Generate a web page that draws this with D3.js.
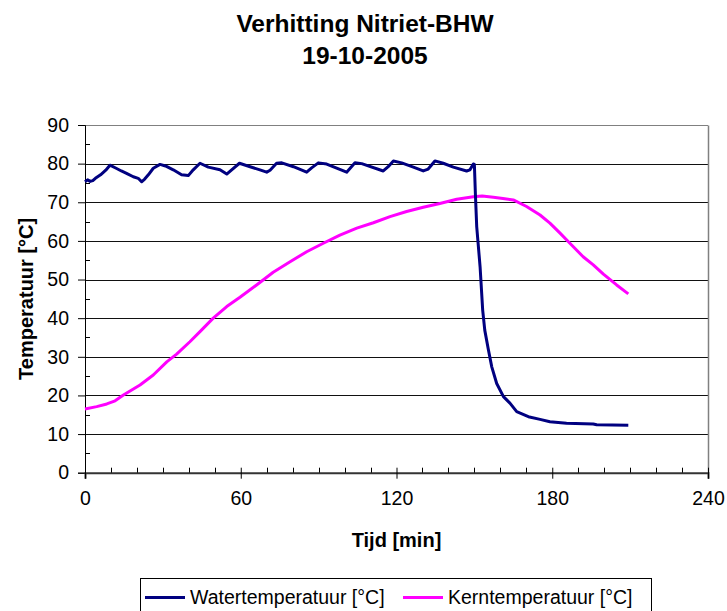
<!DOCTYPE html>
<html>
<head>
<meta charset="utf-8">
<script src="https://cdn.jsdelivr.net/npm/d3@7"></script>
<style>
  html, body { margin: 0; padding: 0; background: #fff; }
  svg { display: block; font-family: "Liberation Sans", Arial, sans-serif; }
</style>
</head>
<body>
<svg id="chart" width="727" height="611"></svg>
<script>
// ---- Data ----
const titleLines = ["Verhitting Nitriet-BHW", "19-10-2005"];
const xTicks = [0, 60, 120, 180, 240];
const yTicks = [0, 10, 20, 30, 40, 50, 60, 70, 80, 90];
const seriesNames = ["Watertemperatuur [°C]", "Kerntemperatuur [°C]"];

const waterTime = [0, 1, 2, 3, 4, 6, 8, 9.6, 12, 14, 16, 18.6, 20.5, 21.8, 23, 24.4, 26.3, 28.9, 31, 34,
  37.2, 39.8, 41.7, 44.3, 47.5, 52, 54.6, 56.5, 59.5, 63.6, 67.4, 70, 71.3, 73.8, 75.8, 80.3, 85.4, 87.3,
  89.9, 93.1, 100.8, 104, 106.6, 114.9, 116.8, 118.8, 122, 126.5, 130.3, 132.2, 134.8, 138, 141.9, 147,
  148.3, 149.6, 150.0, 150.4, 150.9, 152.2, 153.2, 154, 155.4, 156.7, 158.6, 161.2, 163.7, 166.3, 170.8,
  175.3, 179.1, 185.5, 195.8, 197.1, 209.3];
const waterTemp = [75.3, 75.8, 75.4, 75.6, 76.2, 77.1, 78.3, 79.6, 78.8, 78.1, 77.5, 76.6, 76.2, 75.3, 76.0,
  77.1, 78.8, 79.8, 79.4, 78.4, 77.1, 76.9, 78.4, 80.1, 79.1, 78.4, 77.3, 78.4, 80.1, 79.2, 78.4, 77.8, 78.3,
  80.1, 80.2, 79.2, 77.8, 78.9, 80.2, 79.9, 77.8, 80.2, 80.0, 78.1, 79.2, 80.7, 80.2, 79.1, 78.1, 78.6, 80.7,
  80.1, 79.1, 78.1, 78.4, 79.9, 79.8, 72.0, 63.7, 53.3, 42.1, 36.9, 31.8, 27.4, 23.1, 19.7, 18.0, 15.8, 14.5,
  13.8, 13.2, 12.8, 12.6, 12.4, 12.3];

const coreTime = [0, 4.5, 8.4, 11.6, 14.8, 21.2, 26.3, 31.5, 35.3, 40.4, 44.3, 49.4, 54.6, 59.7, 66.1, 72.5,
  79, 85.4, 91.8, 98.2, 104.7, 111.1, 117.5, 123.9, 130.3, 136.7, 143.2, 149.6, 153, 157.3, 161, 165, 170.1,
  175.3, 179.1, 183, 186.8, 191.9, 195.8, 199.7, 204.8, 209.3];
const coreTemp = [16.5, 17.1, 17.8, 18.6, 20.1, 22.7, 25.3, 28.7, 30.7, 33.9, 36.5, 40.0, 43.0, 45.4, 48.6,
  51.9, 54.6, 57.2, 59.4, 61.5, 63.3, 64.7, 66.3, 67.6, 68.7, 69.7, 70.8, 71.4, 71.6, 71.3, 71.0, 70.6, 68.9,
  66.7, 64.6, 62.0, 59.4, 55.9, 53.8, 51.4, 48.6, 46.3];

// ---- Layout ----
const svg = d3.select("#chart");
const L = 85, R = 708, T = 125, B = 472.7;
const x = d3.scaleLinear().domain([0, 240]).range([L, R]);
const y = d3.scaleLinear().domain([0, 90]).range([B, T]);
const colors = ["#000080", "#FF00FF"];

// Title
svg.append("g").selectAll("text").data(titleLines).join("text")
  .attr("x", 365).attr("y", (d, i) => 32 + i * 32)
  .attr("text-anchor", "middle")
  .attr("font-weight", "bold").attr("font-size", 24.5)
  .text(d => d);

// Gridlines
svg.append("g").selectAll("line").data(yTicks.filter(v => v > 0)).join("line")
  .attr("x1", L).attr("x2", R)
  .attr("y1", d => Math.round(y(d)) + 0.5).attr("y2", d => Math.round(y(d)) + 0.5)
  .attr("stroke", d => d === 90 ? "#808080" : "#111").attr("stroke-width", 1);

// Right border
svg.append("line").attr("x1", R + 0.5).attr("x2", R + 0.5)
  .attr("y1", Math.round(T) + 0.5).attr("y2", B).attr("stroke", "#808080").attr("stroke-width", 1.5);

// Y axis
const yAxis = d3.axisLeft(y).tickValues(yTicks).tickSize(7).tickPadding(9);
const gy = svg.append("g").attr("transform", `translate(${L},0)`).call(yAxis);
gy.select(".domain").attr("stroke", "#000");
gy.selectAll(".tick line").attr("stroke", "#000");
gy.selectAll(".tick text").attr("font-size", 19.5).attr("font-family", "Liberation Sans, Arial, sans-serif").attr("fill", "#000");
// y minor ticks (inside)
const yMinor = d3.range(5, 90, 10);
svg.append("g").selectAll("line").data(yMinor).join("line")
  .attr("x1", L).attr("x2", L + 5)
  .attr("y1", d => Math.round(y(d)) + 0.5).attr("y2", d => Math.round(y(d)) + 0.5)
  .attr("stroke", "#000");

// X axis
const xAxis = d3.axisBottom(x).tickValues(xTicks).tickSize(6).tickPadding(12);
const gx = svg.append("g").attr("transform", `translate(0,${B})`).call(xAxis);
gx.select(".domain").attr("stroke", "#333").attr("stroke-width", 2);
gx.selectAll(".tick line").attr("stroke", "#000").attr("y1", -5);
gx.selectAll(".tick text").attr("font-size", 19.5).attr("font-family", "Liberation Sans, Arial, sans-serif").attr("fill", "#000");
// x minor ticks (inside)
const xMinor = d3.range(10, 240, 10).filter(v => v % 60 !== 0);
svg.append("g").selectAll("line").data(xMinor).join("line")
  .attr("x1", d => Math.round(x(d)) + 0.5).attr("x2", d => Math.round(x(d)) + 0.5)
  .attr("y1", B - 5).attr("y2", B)
  .attr("stroke", "#000");

// Axis titles
svg.append("text").attr("x", (L + R) / 2).attr("y", 547)
  .attr("text-anchor", "middle").attr("font-weight", "bold").attr("font-size", 20)
  .text("Tijd [min]");
svg.append("text").attr("transform", `translate(33,${(T + B) / 2}) rotate(-90)`)
  .attr("text-anchor", "middle").attr("font-weight", "bold").attr("font-size", 20)
  .text("Temperatuur [°C]");

// Lines
const line = d3.line().x(d => x(d[0])).y(d => y(d[1]));
const waterData = waterTime.map((t, i) => [t, waterTemp[i]]);
const coreData = coreTime.map((t, i) => [t, coreTemp[i]]);
svg.append("path").datum(coreData).attr("d", line)
  .attr("fill", "none").attr("stroke", colors[1]).attr("stroke-width", 3).attr("stroke-linejoin", "round");
svg.append("path").datum(waterData).attr("d", line)
  .attr("fill", "none").attr("stroke", colors[0]).attr("stroke-width", 3).attr("stroke-linejoin", "round");

// Legend
const lg = svg.append("g");
lg.append("rect").attr("x", 140.5).attr("y", 578.5).attr("width", 511).attr("height", 40)
  .attr("fill", "#fff").attr("stroke", "#000").attr("stroke-width", 1);
const legendX = [145, 403];
seriesNames.forEach((name, i) => {
  lg.append("line").attr("x1", legendX[i]).attr("x2", legendX[i] + 40)
    .attr("y1", 597.5).attr("y2", 597.5).attr("stroke", colors[i]).attr("stroke-width", 3);
  lg.append("text").attr("x", legendX[i] + 45).attr("y", 604)
    .attr("font-size", 19.5).text(name);
});
</script>
</body>
</html>
